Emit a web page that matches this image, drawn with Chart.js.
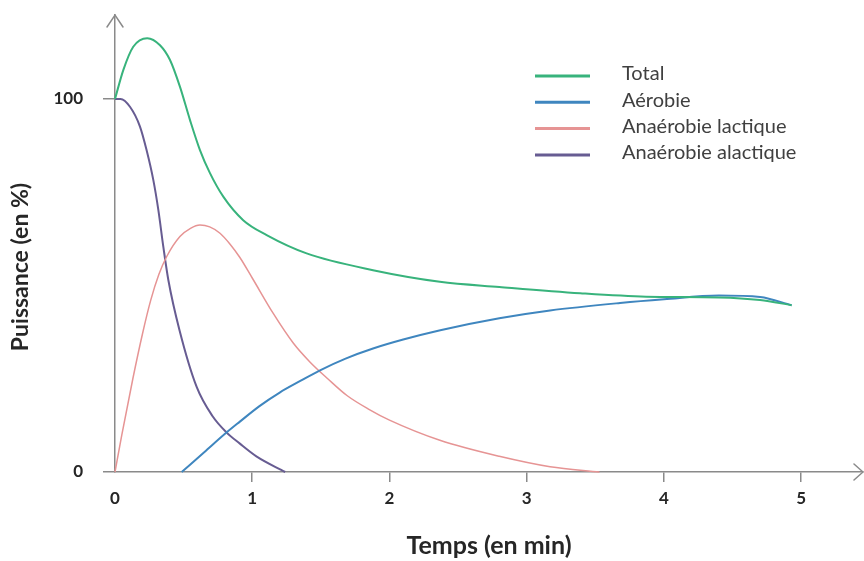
<!DOCTYPE html>
<html><head><meta charset="utf-8">
<script src="https://cdn.jsdelivr.net/npm/chart.js@4.4.1/dist/chart.umd.min.js"></script>
<style>html,body{margin:0;padding:0;background:#fff;}#wrap{width:864px;height:561px;}</style>
</head><body><div id="wrap"><canvas id="c" width="864" height="561"></canvas></div>
<script>
const seriesLabels = ['Total', 'Aérobie', 'Anaérobie lactique', 'Anaérobie alactique'];
const seriesColors = ['#38b37c', '#3f86bf', '#e69494', '#675c92'];

const totalX = [0, 0.061, 0.133, 0.235, 0.328, 0.40, 0.473, 0.546, 0.619, 0.692, 0.789, 0.934, 1.105, 1.396, 1.88, 2.367, 2.8, 3.39, 3.87, 4.4, 4.7, 4.93];
const totalY = [100, 107.8, 114, 116.3, 114.4, 110.5, 103.3, 94.4, 86.3, 80.1, 73.8, 67.5, 63.5, 58.6, 54.1, 51, 49.6, 47.9, 47, 46.8, 46.1, 44.7];

const aeroX = [0.486, 0.65, 0.81, 0.91, 1.05, 1.2, 1.35, 1.49, 1.68, 1.88, 2.1, 2.37, 2.8, 3.17, 3.68, 4.0, 4.4, 4.7, 4.93];
const aeroY = [0, 5.3, 10.5, 13.5, 17.6, 21.3, 24.4, 27.2, 30.4, 33.1, 35.5, 38, 41.2, 43.3, 45.3, 46.3, 47.3, 46.9, 44.7];

const lactX = [0, 0.05, 0.13, 0.2, 0.26, 0.32, 0.376, 0.473, 0.55, 0.619, 0.69, 0.765, 0.84, 0.91, 1.0, 1.153, 1.3, 1.42, 1.55, 1.69, 1.85, 2.0, 2.367, 2.8, 3.17, 3.53];
const lactY = [0, 10, 25, 37, 46, 53, 57.7, 63.1, 65.3, 66.2, 65.7, 64, 61, 57.5, 52, 42.5, 34.5, 29.5, 25, 20.5, 16.8, 13.9, 8.5, 4.2, 1.4, 0];

const alacX = [0, 0.04, 0.109, 0.182, 0.23, 0.279, 0.316, 0.352, 0.389, 0.47, 0.595, 0.71, 0.81, 0.91, 1.03, 1.24];
const alacY = [100, 100, 97.9, 92.6, 86.3, 78.3, 70.2, 60.4, 51.4, 38, 22.8, 15, 10.7, 7.6, 4.2, 0];

const xTickValues = [0, 1, 2, 3, 4, 5];
const yTickValues = [0, 100];
const xMax = 5.45;
const yMax = 122.5;

const axisColor = '#8a8a8a';
const textColor = '#262626';

function pts(xs, ys) { return xs.map((x, i) => ({ x: x, y: ys[i] })); }
const seriesData = [pts(totalX, totalY), pts(aeroX, aeroY), pts(lactX, lactY), pts(alacX, alacY)];
const widths = [2, 2, 1.5, 2];

const decor = {
  id: 'decor',
  afterDraw(chart) {
    const { ctx, chartArea, scales } = chart;
    const x0 = scales.x.getPixelForValue(0);
    const y0 = scales.y.getPixelForValue(0);
    ctx.save();
    ctx.strokeStyle = axisColor;
    ctx.lineWidth = 1.5;
    ctx.lineCap = 'round';
    const ty = chartArea.top;
    ctx.beginPath();
    ctx.moveTo(x0 - 8, ty + 12); ctx.lineTo(x0, ty); ctx.lineTo(x0 + 8, ty + 12);
    ctx.stroke();
    const tx = chartArea.right;
    ctx.beginPath();
    ctx.moveTo(tx - 9, y0 - 8); ctx.lineTo(tx, y0); ctx.lineTo(tx - 9, y0 + 8);
    ctx.stroke();
    ctx.fillStyle = textColor;
    ctx.font = 'bold 23px Lato';
    ctx.textAlign = 'center';
    ctx.textBaseline = 'middle';
    ctx.translate(21, 267);
    ctx.rotate(-Math.PI / 2);
    ctx.fillText('Puissance (en %)', 0, 0);
    ctx.restore();
    ctx.save();
    ctx.font = '20px Lato';
    ctx.textAlign = 'left';
    ctx.textBaseline = 'middle';
    chart.data.datasets.forEach((ds, i) => {
      const ly = 76 + i * 26.3;
      ctx.strokeStyle = ds.borderColor;
      ctx.lineWidth = 3;
      ctx.beginPath(); ctx.moveTo(535, ly); ctx.lineTo(590, ly); ctx.stroke();
      ctx.fillStyle = '#404040';
      ctx.fillText(ds.label, 622, ly - 2);
    });
    ctx.restore();
  }
};

new Chart(document.getElementById('c'), {
  type: 'line',
  data: {
    datasets: seriesLabels.map((lab, i) => ({
      label: lab,
      data: seriesData[i],
      borderColor: seriesColors[i],
      backgroundColor: seriesColors[i],
      borderWidth: widths[i],
      pointRadius: 0,
      fill: false,
      cubicInterpolationMode: 'monotone',
      clip: false
    }))
  },
  options: {
    responsive: false,
    animation: false,
    devicePixelRatio: 1,
    layout: { autoPadding: false, padding: { left: 0, right: 1, top: 15, bottom: 0 } },
    plugins: { legend: { display: false }, tooltip: { enabled: false } },
    scales: {
      x: {
        type: 'linear', min: 0, max: xMax,
        afterBuildTicks: s => { s.ticks = xTickValues.map(v => ({ value: v })); },
        afterFit: s => { s.height = 89; },
        border: { display: true, color: axisColor, width: 1.5 },
        grid: { drawOnChartArea: false, drawTicks: true, tickLength: 10, lineWidth: 1.5,
          color: c => (c.tick && c.tick.value === 0) ? 'rgba(0,0,0,0)' : axisColor },
        ticks: { padding: 6, color: textColor, font: { family: 'Lato', weight: 'bold', size: 17 } },
        title: { display: true, text: 'Temps (en min)', color: textColor,
          font: { family: 'Lato', weight: 'bold', size: 25 }, padding: { top: 0, bottom: 0 } }
      },
      y: {
        type: 'linear', min: 0, max: yMax,
        afterBuildTicks: s => { s.ticks = yTickValues.map(v => ({ value: v })); },
        afterFit: s => { s.width = 115; s.paddingTop = 0; s.paddingBottom = 0; },
        border: { display: true, color: axisColor, width: 1.5 },
        grid: { drawOnChartArea: false, drawTicks: true, tickLength: 12, lineWidth: 1.5, color: axisColor },
        ticks: { padding: 20, color: textColor, font: { family: 'Lato', weight: 'bold', size: 17 } }
      }
    }
  },
  plugins: [decor]
});
</script>
</body></html>
